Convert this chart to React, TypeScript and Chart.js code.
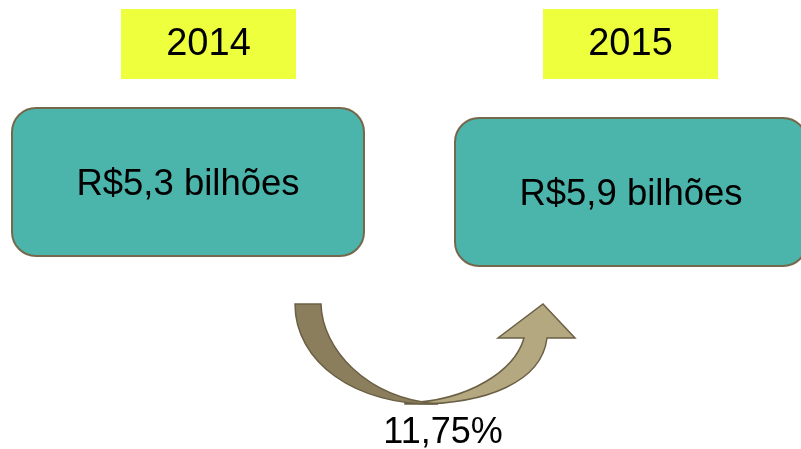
import React, { useEffect, useRef } from "react";
import { Chart, registerables } from "chart.js";

Chart.register(...registerables);

const years = ["2014", "2015"];
const values = [5.3, 5.9];
const growth = [11.75];
const currency = "R$";
const unit = "bilhões";

const fmt = (v: number, d: number) => v.toFixed(d).replace(".", ",");

const FONT = "'Liberation Sans', Arial, sans-serif";

const infographic = {
  id: "infographic",
  afterDraw(chart: any) {
    const ctx: CanvasRenderingContext2D = chart.ctx;
    ctx.save();
    const yellowBoxes = [
      { x: 121, y: 9, w: 175, h: 70 },
      { x: 543, y: 9, w: 175, h: 70 },
    ];
    const tealBoxes = [
      { x: 12, y: 108, w: 352, h: 148 },
      { x: 455, y: 118, w: 352, h: 148 },
    ];
    years.forEach((yr, i) => {
      const b = yellowBoxes[i];
      ctx.fillStyle = "#edff3d";
      ctx.fillRect(b.x, b.y, b.w, b.h);
      ctx.fillStyle = "#000";
      ctx.font = `38px ${FONT}`;
      ctx.textAlign = "center";
      ctx.textBaseline = "middle";
      ctx.fillText(yr, b.x + b.w / 2, b.y + b.h / 2 + 1);

      const t = tealBoxes[i];
      ctx.beginPath();
      (ctx as any).roundRect(t.x, t.y, t.w, t.h, 24);
      ctx.fillStyle = "#4bb4ab";
      ctx.fill();
      ctx.lineWidth = 2;
      ctx.strokeStyle = "#75684c";
      ctx.stroke();
      ctx.fillStyle = "#000";
      ctx.font = `36.5px ${FONT}`;
      const cx = i === 0 ? t.x + t.w / 2 : 631;
      ctx.fillText(`${currency}${fmt(values[i], 1)} ${unit}`, cx, t.y + t.h / 2 + 3);
    });

    // arrow: right (light) part
    ctx.lineWidth = 1.5;
    ctx.strokeStyle = "#6b5f45";
    ctx.beginPath();
    ctx.moveTo(405, 404);
    ctx.bezierCurveTo(490, 406, 542, 380, 547, 338);
    ctx.lineTo(575, 338);
    ctx.lineTo(543, 304);
    ctx.lineTo(498, 338);
    ctx.lineTo(524, 338);
    ctx.bezierCurveTo(515, 370, 470, 401, 405, 403);
    ctx.closePath();
    ctx.fillStyle = "#b4a881";
    ctx.fill();
    ctx.stroke();

    // left (dark) part
    ctx.beginPath();
    ctx.moveTo(295, 304);
    ctx.lineTo(321, 304);
    ctx.bezierCurveTo(322, 348, 365, 398, 438, 404);
    ctx.bezierCurveTo(355, 406, 295, 362, 295, 304);
    ctx.closePath();
    ctx.fillStyle = "#8a7e5c";
    ctx.fill();
    ctx.stroke();

    ctx.fillStyle = "#000";
    ctx.font = `36px ${FONT}`;
    ctx.textAlign = "center";
    ctx.textBaseline = "alphabetic";
    ctx.fillText(`${fmt(growth[0], 2)}%`, 443, 443);
    ctx.restore();
  },
};

export default function App() {
  const ref = useRef<HTMLCanvasElement>(null);
  useEffect(() => {
    document.body.style.margin = "0";
    const chart = new Chart(ref.current!, {
      type: "bar",
      data: {
        labels: years,
        datasets: [{ data: values, backgroundColor: "rgba(0,0,0,0)" }],
      },
      options: {
        animation: false,
        responsive: false,
        events: [],
        layout: { padding: 0 },
        plugins: { legend: { display: false }, tooltip: { enabled: false } },
        scales: { x: { display: false }, y: { display: false } },
      },
      plugins: [infographic],
    });
    return () => chart.destroy();
  }, []);
  return (
    <div style={{ width: 801, height: 449, background: "#fff" }}>
      <canvas ref={ref} width={801} height={449} />
    </div>
  );
}
